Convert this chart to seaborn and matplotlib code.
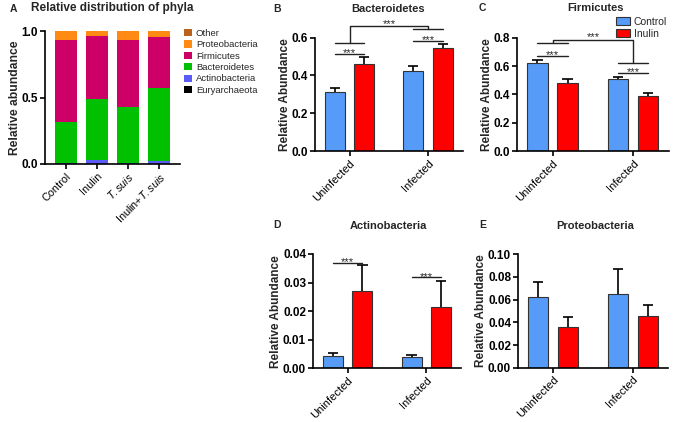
import numpy as np
import pandas as pd
import matplotlib
matplotlib.use("Agg")
import matplotlib.pyplot as plt
from matplotlib.ticker import FormatStrFormatter, FixedLocator
from matplotlib.patches import Patch
from matplotlib.transforms import offset_copy
import seaborn as sns

# ---------------- data ----------------
samples = ["Control", "Inulin", r"$\it{T.suis}$", r"Inulin+$\it{T.suis}$"]
phyla = ["Euryarchaeota", "Actinobacteria", "Bacteroidetes", "Firmicutes", "Proteobacteria", "Other"]
euryarchaeota = [0.002, 0.002, 0.002, 0.002]
actinobacteria = [0.004, 0.028, 0.004, 0.020]
bacteroidetes = [0.312, 0.460, 0.424, 0.548]
firmicutes = [0.617, 0.473, 0.505, 0.385]
proteobacteria = [0.062, 0.036, 0.062, 0.043]
other = [0.003, 0.001, 0.003, 0.002]
phyla_colors = ["#000000", "#5B5BF5", "#00C000", "#CC0066", "#FF8A14", "#B8621B"]

conditions = ["Uninfected", "Infected"]
treatments = ["Control", "Inulin"]
# order: Control-Uninfected, Control-Infected, Inulin-Uninfected, Inulin-Infected
bact_mean = [0.310, 0.425, 0.460, 0.543]
bact_sem = [0.022, 0.025, 0.036, 0.022]
firm_mean = [0.620, 0.506, 0.477, 0.387]
firm_sem = [0.025, 0.014, 0.028, 0.023]
actino_mean = [0.0043, 0.0041, 0.0269, 0.0216]
actino_sem = [0.0010, 0.0007, 0.0091, 0.0091]
proteo_mean = [0.062, 0.065, 0.036, 0.046]
proteo_sem = [0.014, 0.022, 0.009, 0.009]

BLUE = "#559BF7"
RED = "#FF0000"

# ---------------- style ----------------
sns.set_theme(style="ticks")
plt.rcParams["font.family"] = ["Liberation Sans", "DejaVu Sans"]
plt.rcParams["mathtext.fontset"] = "custom"
plt.rcParams["mathtext.rm"] = "Liberation Sans"
plt.rcParams["mathtext.it"] = "Liberation Sans:italic"
plt.rcParams["axes.linewidth"] = 1.2
plt.rcParams["xtick.major.width"] = 1.2
plt.rcParams["ytick.major.width"] = 1.2
plt.rcParams["xtick.major.size"] = 3.5
plt.rcParams["ytick.major.size"] = 3.5
plt.rcParams["xtick.color"] = "black"
plt.rcParams["ytick.color"] = "black"

W, H = 673, 422
fig = plt.figure(figsize=(W / 100, H / 100), dpi=100)
fig.patch.set_facecolor("white")


def px_axes(l, t, r, b):
    return fig.add_axes([l / W, 1 - b / H, (r - l) / W, (b - t) / H])


def px_text(x, y, s, **kw):
    fig.text(x / W, 1 - y / H, s, **kw)


def style_axes(ax):
    sns.despine(ax=ax)
    for sp in ("left", "bottom"):
        ax.spines[sp].set_color("black")
    ax.tick_params(axis="y", labelsize=8.5, pad=1.5)
    for t in ax.get_yticklabels():
        t.set_fontweight("bold")


# ---------------- Panel A ----------------
axA = px_axes(45, 31, 180, 164)
layers = [euryarchaeota, actinobacteria, bacteroidetes, firmicutes, proteobacteria, other]
cum = np.cumsum(np.array(layers), axis=0)
for i in range(len(phyla) - 1, -1, -1):
    dfA = pd.DataFrame({"sample": samples, "value": cum[i]})
    sns.barplot(data=dfA, x="sample", y="value", color=phyla_colors[i], width=0.71,
                saturation=1, ax=axA, errorbar=None, linewidth=0)
axA.set_ylim(0, 1.0)
axA.set_xlim(-0.68, 3.68)
axA.yaxis.set_major_locator(FixedLocator([0, 0.5, 1.0]))
axA.yaxis.set_major_formatter(FormatStrFormatter("%.1f"))
axA.set_xlabel("")
axA.set_ylabel("Relative abundance", fontsize=8.7, fontweight="bold", labelpad=0.5)
style_axes(axA)
axA.tick_params(axis="x", labelsize=7.8, pad=1.5)
plt.setp(axA.get_xticklabels(), rotation=45, ha="right", rotation_mode="anchor")
px_text(112, 8, "Relative distribution of phyla", fontsize=8.5, fontweight="bold",
        ha="center", va="center")
handles = [Patch(facecolor=phyla_colors[i], edgecolor="none") for i in range(len(phyla) - 1, -1, -1)]
labels = [phyla[i] for i in range(len(phyla) - 1, -1, -1)]
fig.legend(handles, labels, loc="upper left", bbox_to_anchor=(184 / W, 1 - 29 / H),
           bbox_transform=fig.transFigure, frameon=False,
           fontsize=6.8, handlelength=0.8, handleheight=0.8, handletextpad=0.45,
           labelspacing=0.25, borderaxespad=0.0, borderpad=0.0)
px_text(10, 9, "A", fontsize=7.5, fontweight="bold", va="center")


# ---------------- bar panels ----------------
def group_panel(rect, mean, sem, ymax, step, fmt, title, title_xy, letter, letter_xy):
    ax = px_axes(*rect)
    df = pd.DataFrame({
        "condition": [conditions[0], conditions[1], conditions[0], conditions[1]],
        "treatment": [treatments[0], treatments[0], treatments[1], treatments[1]],
        "value": mean,
    })
    sns.barplot(data=df, x="condition", y="value", hue="treatment", order=conditions,
                hue_order=treatments, palette=[BLUE, RED], saturation=1, width=0.75,
                gap=0.32, errorbar=None, ax=ax, legend=False,
                edgecolor="#333333", linewidth=0.8)
    centers = {}
    for ci, cont in enumerate(ax.containers):
        for bi, bar in enumerate(cont):
            x = bar.get_x() + bar.get_width() / 2
            y = bar.get_height()
            e = sem[ci * 2 + bi]
            ax.vlines(x, y, y + e, color="black", lw=1.2, zorder=3)
            ax.hlines(y + e, x - 0.065, x + 0.065, color="black", lw=1.2, zorder=3)
            centers[(ci, bi)] = x
    ax.set_ylim(0, ymax)
    ax.set_xlim(-0.442, 1.442)
    ax.yaxis.set_major_locator(FixedLocator(np.arange(0, ymax + step / 2, step)))
    ax.yaxis.set_major_formatter(FormatStrFormatter(fmt))
    ax.set_xlabel("")
    ax.set_ylabel("Relative Abundance", fontsize=8.5, fontweight="bold", labelpad=0.5)
    style_axes(ax)
    ax.tick_params(axis="x", labelsize=8, pad=1.5)
    plt.setp(ax.get_xticklabels(), rotation=45, ha="right", rotation_mode="anchor")
    px_text(title_xy[0], title_xy[1], title, fontsize=8, fontweight="bold",
            ha="center", va="center")
    px_text(letter_xy[0], letter_xy[1], letter, fontsize=7.5, fontweight="bold", va="center")
    return ax, centers


def hline(ax, x0, x1, y):
    ax.plot([x0, x1], [y, y], color="#222222", lw=1.0, clip_on=False, zorder=4)


def stars(ax, x, y, dy=0.7):
    tr = offset_copy(ax.transData, fig=fig, x=0, y=dy * 72 / 100, units="points")
    ax.text(x, y, "***", ha="center", va="center", fontsize=8, clip_on=False, transform=tr)


# Panel B
axB, cB = group_panel((315, 37.7, 462.7, 151), bact_mean, bact_sem, 0.6, 0.2, "%.1f",
                      "Bacteroidetes", (388, 9), "B", (273, 9))
hline(axB, cB[(0, 0)], cB[(1, 0)], 0.514)
stars(axB, (cB[(0, 0)] + cB[(1, 0)]) / 2, 0.514)
hline(axB, cB[(0, 0)], cB[(1, 0)], 0.574)
hline(axB, cB[(0, 1)], cB[(1, 1)], 0.582)
stars(axB, (cB[(0, 1)] + cB[(1, 1)]) / 2, 0.582)
hline(axB, cB[(0, 1)], cB[(1, 1)], 0.644)
axB.plot([0, 0, 1, 1], [0.574, 0.662, 0.662, 0.644], color="#222222", lw=1.0, clip_on=False)
stars(axB, 0.5, 0.662, dy=2.0)

# Panel C
axC, cC = group_panel((517, 37.7, 668.7, 151), firm_mean, firm_sem, 0.8, 0.2, "%.1f",
                      "Firmicutes", (595, 8), "C", (479, 8))
hline(axC, cC[(0, 0)], cC[(1, 0)], 0.671)
stars(axC, (cC[(0, 0)] + cC[(1, 0)]) / 2, 0.671)
hline(axC, cC[(0, 0)], cC[(1, 0)], 0.760)
hline(axC, cC[(0, 1)], cC[(1, 1)], 0.553)
stars(axC, (cC[(0, 1)] + cC[(1, 1)]) / 2, 0.553)
hline(axC, cC[(0, 1)], cC[(1, 1)], 0.619)
axC.plot([0, 0, 1, 1], [0.760, 0.784, 0.784, 0.619], color="#222222", lw=1.0, clip_on=False)
stars(axC, 0.5, 0.784, dy=2.5)
legC = [Patch(facecolor=BLUE, edgecolor="#333333", linewidth=0.8),
        Patch(facecolor=RED, edgecolor="#333333", linewidth=0.8)]
fig.legend(legC, treatments, loc="upper left", bbox_to_anchor=(616 / W, 1 - 17 / H),
           bbox_transform=fig.transFigure, frameon=False,
           fontsize=7.5, handlelength=1.35, handleheight=0.8, handletextpad=0.35,
           labelspacing=0.2, borderaxespad=0.0, borderpad=0.0)

# Panel D
axD, cD = group_panel((313, 254, 461, 368.3), actino_mean, actino_sem, 0.04, 0.01, "%.2f",
                      "Actinobacteria", (388, 226), "D", (273, 225))
hline(axD, cD[(0, 0)], cD[(1, 0)], 0.0370)
stars(axD, (cD[(0, 0)] + cD[(1, 0)]) / 2, 0.0370)
hline(axD, cD[(0, 1)], cD[(1, 1)], 0.0318)
stars(axD, (cD[(0, 1)] + cD[(1, 1)]) / 2, 0.0318)

# Panel E
axE, cE = group_panel((518, 254.3, 668, 367.7), proteo_mean, proteo_sem, 0.10, 0.02, "%.2f",
                      "Proteobacteria", (595, 226), "E", (479, 225))

fig.savefig("out.png", dpi=100, facecolor="white")
